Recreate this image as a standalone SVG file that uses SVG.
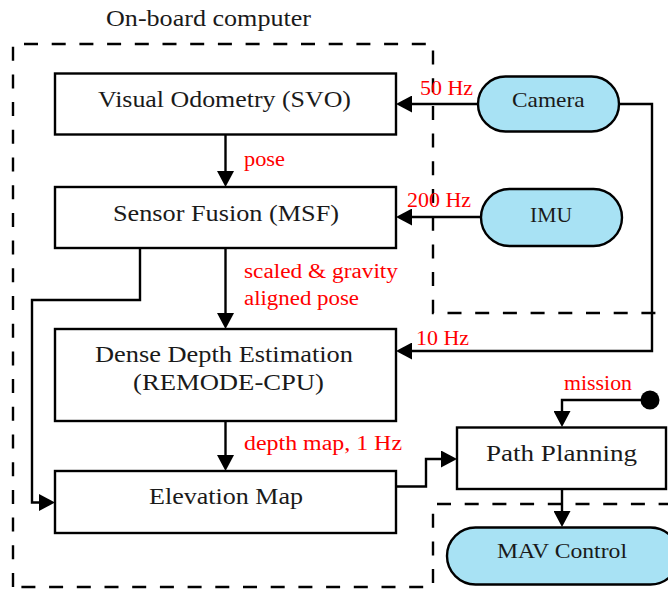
<svg xmlns="http://www.w3.org/2000/svg" width="668" height="590" viewBox="0 0 668 590">
<defs>
<style>
.box{fill:#fff;stroke:#000;stroke-width:2.4}
.pill{fill:#a8e2f4;stroke:#000;stroke-width:2.4}
text{font-family:"Liberation Serif",Tinos,"Times New Roman",Times,"DejaVu Serif","Noto Serif",FreeSerif,serif}
.t{font-size:24px;fill:#1a1a1a}
.tp{font-size:21px;fill:#1a1a1a}
.lbl{font-size:20.5px;fill:#ff0000}
.c{fill:none;stroke:#000;stroke-width:2.4}
.dash{fill:none;stroke:#000;stroke-width:2.4;stroke-dasharray:14 13.7}
</style>
<marker id="arr" markerUnits="userSpaceOnUse" markerWidth="16" markerHeight="17" viewBox="0 0 16 17" refX="12" refY="8.5" orient="auto">
<path d="M0,0 L16,8.5 L0,17 Z" fill="#000"/>
</marker>
</defs>
<rect width="668" height="590" fill="#fff"/>
<g id="onboard-region">
<path class="dash" d="M13,587 V44 H433 V313 H700 V504 H433 V587 H13"/>
<text class="t" x="106" y="26" textLength="205" lengthAdjust="spacingAndGlyphs">On-board computer</text>
</g>
<g id="connectors">
<path class="c" d="M225.5,135 V183" marker-end="url(#arr)"/>
<path class="c" d="M225.5,248 V325" marker-end="url(#arr)"/>
<path class="c" d="M225.5,421 V467" marker-end="url(#arr)"/>
<path class="c" d="M140,248 V300 H32 V502.5 H51" marker-end="url(#arr)"/>
<path class="c" d="M478,104 H400" marker-end="url(#arr)"/>
<path class="c" d="M481,217 H400" marker-end="url(#arr)"/>
<path class="c" d="M619,104 H652 V351 H400" marker-end="url(#arr)"/>
<path class="c" d="M396,486.5 H426 V459 H453" marker-end="url(#arr)"/>
<path class="c" d="M650,400 H562 V423" marker-end="url(#arr)"/>
<circle cx="650" cy="400" r="9.5" fill="#000"/>
<path class="c" d="M562,489 V523" marker-end="url(#arr)"/>
<text class="lbl" x="244" y="166" textLength="41" lengthAdjust="spacingAndGlyphs">pose</text>
<text class="lbl" x="244" y="278" textLength="154" lengthAdjust="spacingAndGlyphs">scaled &amp; gravity</text>
<text class="lbl" x="244" y="305" textLength="115" lengthAdjust="spacingAndGlyphs">aligned pose</text>
<text class="lbl" x="244" y="450" textLength="158" lengthAdjust="spacingAndGlyphs">depth map, 1 Hz</text>
<text class="lbl" x="420" y="95" textLength="53" lengthAdjust="spacingAndGlyphs">50 Hz</text>
<text class="lbl" x="407" y="207" textLength="64" lengthAdjust="spacingAndGlyphs">200 Hz</text>
<text class="lbl" x="416" y="345" textLength="53" lengthAdjust="spacingAndGlyphs">10 Hz</text>
<text class="lbl" x="564" y="390" textLength="68" lengthAdjust="spacingAndGlyphs">mission</text>
</g>
<g id="vo">
<rect class="box" x="55" y="73.5" width="341" height="61"/>
<text class="t" x="98" y="107" textLength="253" lengthAdjust="spacingAndGlyphs">Visual Odometry (SVO)</text>
</g>
<g id="msf">
<rect class="box" x="55" y="187" width="341" height="61"/>
<text class="t" x="113" y="221" textLength="226" lengthAdjust="spacingAndGlyphs">Sensor Fusion (MSF)</text>
</g>
<g id="remode">
<rect class="box" x="55" y="329" width="341" height="92"/>
<text class="t" x="95" y="362" textLength="258" lengthAdjust="spacingAndGlyphs">Dense Depth Estimation</text>
<text class="t" x="133" y="390" textLength="191" lengthAdjust="spacingAndGlyphs">(REMODE-CPU)</text>
</g>
<g id="elevation">
<rect class="box" x="55" y="471" width="341" height="62"/>
<text class="t" x="149" y="504" textLength="154" lengthAdjust="spacingAndGlyphs">Elevation Map</text>
</g>
<g id="planning">
<rect class="box" x="457" y="427.5" width="209" height="61.5"/>
<text class="t" x="486" y="461" textLength="151" lengthAdjust="spacingAndGlyphs">Path Planning</text>
</g>
<g id="camera">
<rect class="pill" x="478" y="76.5" width="141" height="55" rx="27.5"/>
<text class="tp" x="512" y="107" textLength="72.6" lengthAdjust="spacingAndGlyphs">Camera</text>
</g>
<g id="imu">
<rect class="pill" x="481" y="189" width="141" height="57" rx="28.5"/>
<text class="tp" x="530" y="222" textLength="42" lengthAdjust="spacingAndGlyphs">IMU</text>
</g>
<g id="mav">
<rect class="pill" x="447" y="527.5" width="232" height="57" rx="28.5"/>
<text class="tp" x="497" y="558" textLength="130" lengthAdjust="spacingAndGlyphs">MAV Control</text>
</g>
</svg>
